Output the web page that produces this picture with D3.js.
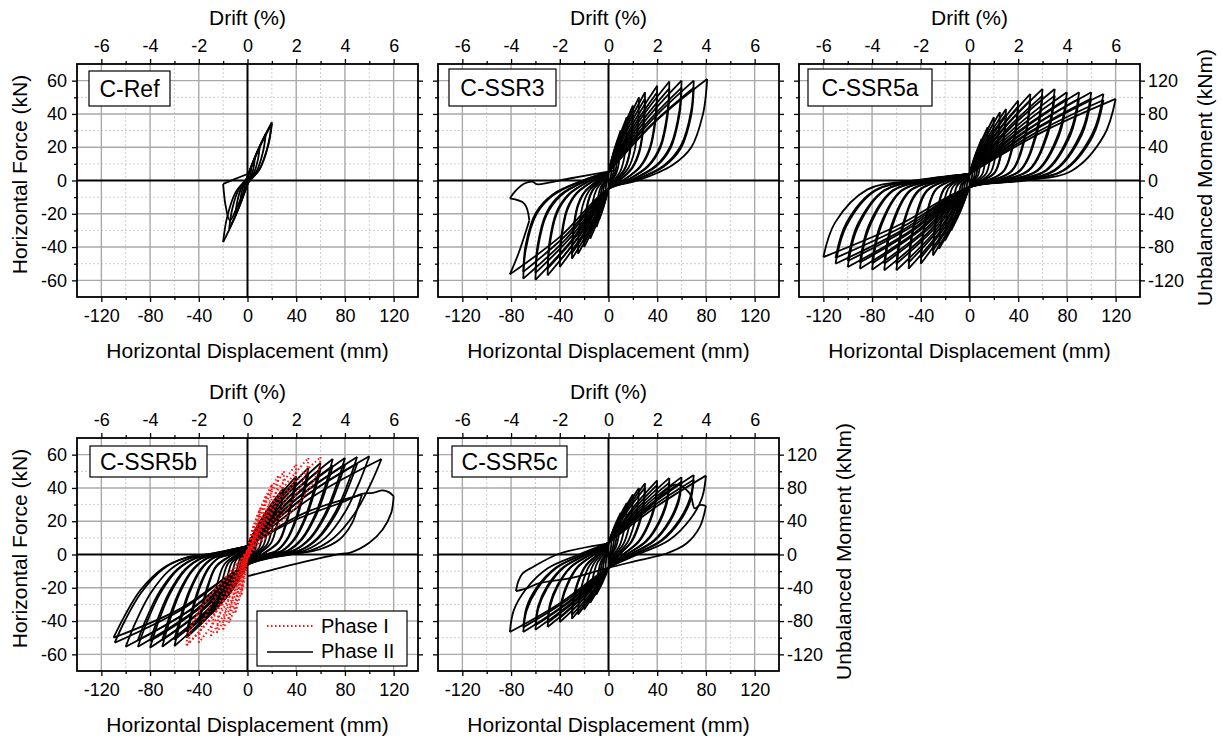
<!DOCTYPE html>
<html>
<head>
<meta charset="utf-8">
<script src="https://cdn.jsdelivr.net/npm/d3@7"></script>
<style>
  body { margin: 0; background: #fff; }
  svg { display: block; font-family: "Liberation Sans", Arial, sans-serif; }
  .tick text { font-size: 18px; fill: #000; }
  .domain { display: none; }
  .tick line { stroke: #000; stroke-width: 1.3; }
</style>
</head>
<body>
<svg id="chart" width="1223" height="745"></svg>
<script>
// tick values
var dispTicks = [-120, -80, -40, 0, 40, 80, 120];
var dispMinor = [-100, -60, -20, 20, 60, 100];
var forceTicks = [-60, -40, -20, 0, 20, 40, 60];
var forceMinor = [-50, -30, -10, 10, 30, 50];
var driftTicks = [-6, -4, -2, 0, 2, 4, 6];
var driftMinor = [-5, -3, -1, 1, 3, 5];
var momentTicks = [-120, -80, -40, 0, 40, 80, 120];
var momentMinor = [-100, -60, -20, 20, 60, 100];

// hysteresis cycles: [displacement mm, force kN]
var refLoops = [
  [[0,2],[1.5,4.8],[3,7],[2.6,4.3],[1.5,1.4],[0.3,0],[0,-2],[-1.5,-4.8],[-3,-7],[-2.6,-4.3],[-1.5,-1.4],[-0.3,0],[0,2]],
  [[0,2],[3,8.2],[6,13],[5.1,8.1],[3,2.6],[0.6,0],[0,-2],[-3,-8.2],[-6,-13],[-5.1,-8.1],[-3,-2.6],[-0.6,0],[0,2]],
  [[0,2],[5,12.1],[10,20],[8.5,12.4],[5,4],[1,0],[0,-2],[-5,-12.6],[-10,-21],[-8.5,-13],[-5,-4.2],[-1,0],[0,2]],
  [[0,2],[7.5,16.6],[15,28],[12.8,17.4],[7.5,5.6],[1.5,0],[0,-2],[-7.5,-17.1],[-15,-29],[-12.8,-18],[-7.5,-5.8],[-1.5,0],[0,2]],
  [[0,2],[10,20.5],[20,35],[17,21.7],[10,7],[2,0],[0,-2],[-10,-21.6],[-20,-37],[-17,-22.9],[-10,-7.4],[-2,0],[0,2]],
  [[0,2],[10,20],[20,34],[17,21],[10,6.8],[2,0],[0,-2],[-8,-15],[-14.5,-24],[-18,-15],[-20,-2],[-10,1],[0.5,4]]
];

var ssr3Loops = [
  [[0,5],[1.25,7.8],[2.5,10],[2.4,7],[2.1,3.5],[1.6,1.5],[0.75,0],[0,-5],[-1.25,-7.8],[-2.5,-10],[-2.4,-7],[-2.1,-3.5],[-1.6,-1.5],[-0.75,0],[0,5]],
  [[0,5],[2.5,12.3],[5,18],[4.9,12.6],[4.3,6.3],[3.3,2.7],[1.5,0],[0,-5],[-2.5,-11.7],[-5,-17],[-4.9,-11.9],[-4.3,-6],[-3.3,-2.6],[-1.5,0],[0,5]],
  [[0,5],[3.75,15.6],[7.5,24],[7.3,16.8],[6.4,8.4],[4.9,3.6],[2.25,0],[0,-5],[-3.75,-15.1],[-7.5,-23],[-7.3,-16.1],[-6.4,-8.1],[-4.9,-3.5],[-2.25,0],[0,5]],
  [[0,5],[5,19],[10,30],[9.7,21],[8.5,10.5],[6.5,4.5],[3,0],[0,-5],[-5,-17.9],[-10,-28],[-9.7,-19.6],[-8.5,-9.8],[-6.5,-4.2],[-3,0],[0,5]],
  [[0,5],[7.5,23.5],[15,38],[14.6,26.6],[12.8,13.3],[9.8,5.7],[4.5,0],[0,-5],[-7.5,-21.8],[-15,-35],[-14.6,-24.5],[-12.8,-12.3],[-9.8,-5.3],[-4.5,0],[0,5]],
  [[0,5],[10,27.4],[20,45],[19.4,31.5],[17,15.8],[13,6.8],[6,0],[0,-5],[-10,-24.6],[-20,-40],[-19.4,-28],[-17,-14],[-13,-6],[-6,0],[0,5]],
  [[0,5],[12.5,30.2],[25,50],[24.3,35],[21.3,17.5],[16.3,7.5],[7.5,0],[0,-5],[-12.5,-26.8],[-25,-44],[-24.3,-30.8],[-21.3,-15.4],[-16.3,-6.6],[-7.5,0],[0,5]],
  [[0,5],[15,31.9],[30,53],[29.1,37.1],[25.5,18.6],[19.5,8],[9,0],[0,-5],[-15,-28.5],[-30,-47],[-29.1,-32.9],[-25.5,-16.5],[-19.5,-7.1],[-9,0],[0,5]],
  [[0,5],[20,34.1],[40,57],[38.8,39.9],[34,20],[26,8.6],[12,0],[0,-5],[-20,-31.3],[-40,-52],[-38.8,-36.4],[-34,-18.2],[-26,-7.8],[-12,0],[0,5]],
  [[0,5],[25,35.5],[50,59.5],[48.5,41.7],[42.5,20.8],[32.5,8.9],[15,0],[0,-5],[-25,-34.1],[-50,-57],[-48.5,-39.9],[-42.5,-20],[-32.5,-8.6],[-15,0],[0,5]],
  [[0,5],[30,35.8],[60,60],[58.2,42],[51,21],[39,9],[18,0],[0,-5],[-30,-35.6],[-60,-59.7],[-58.2,-41.8],[-51,-20.9],[-39,-9],[-18,0],[0,5]],
  [[0,5],[35,35.8],[70,60],[67.9,42],[59.5,21],[45.5,9],[21,0],[0,-5],[-35,-35.2],[-70,-59],[-67.9,-41.3],[-59.5,-20.7],[-45.5,-8.9],[-21,0],[0,5]],
  [[0,5],[40,36.4],[81,61],[80.3,54],[77.6,40],[68,20],[52,9],[24,0],[0,-5],[-40,-33.9],[-81,-56.4],[-74,-44],[-65,-24],[-69,-14],[-81,-10.8],[-76,-6],[-69,-1.8],[-62,-0.8],[-59,-2.2],[-32,1.2],[6.6,6.2]]
];
// second cycles at the same amplitudes
var ssr3Repeat = [
  [[0,5],[10,25.7],[20,42],[19.4,29.4],[17,14.7],[13,6.3],[6,0],[0,-5],[-10,-23],[-20,-37],[-19.4,-25.9],[-17,-13],[-13,-5.6],[-6,0],[0,5]],
  [[0,5],[15,29.8],[30,49.3],[29.1,34.5],[25.5,17.3],[19.5,7.4],[9,0],[0,-5],[-15,-26.7],[-30,-43.7],[-29.1,-30.6],[-25.5,-15.3],[-19.5,-6.6],[-9,0],[0,5]],
  [[0,5],[20,31.9],[40,53],[38.8,37.1],[34,18.6],[26,8],[12,0],[0,-5],[-20,-29.3],[-40,-48.4],[-38.8,-33.9],[-34,-16.9],[-26,-7.3],[-12,0],[0,5]],
  [[0,5],[25,33.2],[50,55.3],[48.5,38.7],[42.5,19.4],[32.5,8.3],[15,0],[0,-5],[-25,-31.9],[-50,-53],[-48.5,-37.1],[-42.5,-18.6],[-32.5,-8],[-15,0],[0,5]],
  [[0,5],[30,33.4],[60,55.8],[58.2,39.1],[51,19.5],[39,8.4],[18,0],[0,-5],[-30,-33.3],[-60,-55.5],[-58.2,-38.9],[-51,-19.4],[-39,-8.3],[-18,0],[0,5]],
  [[0,5],[35,33.4],[70,55.8],[67.9,39.1],[59.5,19.5],[45.5,8.4],[21,0],[0,-5],[-35,-32.9],[-70,-54.9],[-67.9,-38.4],[-59.5,-19.2],[-45.5,-8.2],[-21,0],[0,5]]
];

var ssr5aLoops = [
  [[0,4],[1.25,6.8],[2.5,9],[2.3,5],[1.75,1.1],[0.95,0],[0,-4],[-1.25,-6.2],[-2.5,-8],[-2.3,-4.4],[-1.75,-1],[-0.95,0],[0,4]],
  [[0,4],[2.5,9.6],[5,14],[4.6,7.7],[3.5,1.7],[1.9,0],[0,-4],[-2.5,-8.5],[-5,-12],[-4.6,-6.6],[-3.5,-1.4],[-1.9,0],[0,4]],
  [[0,4],[3.75,13],[7.5,20],[6.9,11],[5.25,2.4],[2.85,0],[0,-4],[-3.75,-11.3],[-7.5,-17],[-6.9,-9.4],[-5.25,-2],[-2.85,0],[0,4]],
  [[0,4],[5,15.8],[10,25],[9.2,13.8],[7,3],[3.8,0],[0,-4],[-5,-14.1],[-10,-22],[-9.2,-12.1],[-7,-2.6],[-3.8,0],[0,4]],
  [[0,4],[7.5,19.7],[15,32],[13.8,17.6],[10.5,3.8],[5.7,0],[0,-4],[-7.5,-18.6],[-15,-30],[-13.8,-16.5],[-10.5,-3.6],[-5.7,0],[0,4]],
  [[0,4],[10,23],[20,38],[18.4,20.9],[14,4.6],[7.6,0],[0,-4],[-10,-21.9],[-20,-36],[-18.4,-19.8],[-14,-4.3],[-7.6,0],[0,4]],
  [[0,4],[12.5,24.7],[25,41],[23,22.6],[17.5,4.9],[9.5,0],[0,-4],[-12.5,-24.7],[-25,-41],[-23,-22.6],[-17.5,-4.9],[-9.5,0],[0,4]],
  [[0,4],[15,25.8],[30,43],[27.6,23.7],[21,5.2],[11.4,0],[0,-4],[-15,-27],[-30,-45],[-27.6,-24.8],[-21,-5.4],[-11.4,0],[0,4]],
  [[0,4],[20,28.6],[40,48],[36.8,26.4],[28,5.8],[15.2,0],[0,-4],[-20,-29.8],[-40,-50],[-36.8,-27.5],[-28,-6],[-15.2,0],[0,4]],
  [[0,4],[25,30.9],[50,52],[46,28.6],[35,6.2],[19,0],[0,-4],[-25,-31.4],[-50,-53],[-46,-29.2],[-35,-6.4],[-19,0],[0,4]],
  [[0,4],[30,32.6],[60,55],[55.2,30.3],[42,6.6],[22.8,0],[0,-4],[-30,-32],[-60,-54],[-55.2,-29.7],[-42,-6.5],[-22.8,0],[0,4]],
  [[0,4],[35,32.6],[70,55],[64.4,30.3],[49,6.6],[26.6,0],[0,-4],[-35,-32],[-70,-54],[-64.4,-29.7],[-49,-6.5],[-26.6,0],[0,4]],
  [[0,4],[40,31.4],[80,53],[73.6,29.2],[56,6.4],[30.4,0],[0,-4],[-40,-31.8],[-80,-53.6],[-73.6,-29.5],[-56,-6.4],[-30.4,0],[0,4]],
  [[0,4],[45,31.4],[90,53],[82.8,29.2],[63,6.4],[34.2,0],[0,-4],[-45,-31.4],[-90,-53],[-82.8,-29.2],[-63,-6.4],[-34.2,0],[0,4]],
  [[0,4],[50,31.4],[100,53],[92,29.2],[70,6.4],[38,0],[0,-4],[-50,-30.9],[-100,-52],[-92,-28.6],[-70,-6.2],[-38,0],[0,4]],
  [[0,4],[55,30.9],[110,52],[101.2,28.6],[77,6.2],[41.8,0],[0,-4],[-55,-29.8],[-110,-50],[-101.2,-27.5],[-77,-6],[-41.8,0],[0,4]],
  [[0,4],[60,29.2],[120,49],[110.4,27],[84,5.9],[45.6,0],[0,-4],[-60,-27.5],[-120,-46],[-110.4,-25.3],[-84,-5.5],[-45.6,0],[0,4]]
];
var ssr5aRepeat = [
  [[0,4],[15,24.2],[30,40],[27.6,22],[21,4.8],[10.8,0],[0,-4],[-15,-25.3],[-30,-42],[-27.6,-23.1],[-21,-5],[-10.8,0],[0,4]],
  [[0,4],[20,26.7],[40,44.6],[36.8,24.5],[28,5.4],[14.4,0],[0,-4],[-20,-27.8],[-40,-46.5],[-36.8,-25.6],[-28,-5.6],[-14.4,0],[0,4]],
  [[0,4],[25,28.9],[50,48.4],[46,26.6],[35,5.8],[18,0],[0,-4],[-25,-29.4],[-50,-49.3],[-46,-27.1],[-35,-5.9],[-18,0],[0,4]],
  [[0,4],[30,30.3],[60,51],[55.2,28],[42,6.1],[21.6,0],[0,-4],[-30,-29.8],[-60,-50],[-55.2,-27.5],[-42,-6],[-21.6,0],[0,4]],
  [[0,4],[35,30.3],[70,51],[64.4,28],[49,6.1],[25.2,0],[0,-4],[-35,-29.8],[-70,-50],[-64.4,-27.5],[-49,-6],[-25.2,0],[0,4]],
  [[0,4],[40,29.4],[80,49.3],[73.6,27.1],[56,5.9],[28.8,0],[0,-4],[-40,-29.6],[-80,-49.8],[-73.6,-27.4],[-56,-6],[-28.8,0],[0,4]],
  [[0,4],[45,29.4],[90,49.3],[82.8,27.1],[63,5.9],[32.4,0],[0,-4],[-45,-29.4],[-90,-49.3],[-82.8,-27.1],[-63,-5.9],[-32.4,0],[0,4]],
  [[0,4],[50,29.4],[100,49.3],[92,27.1],[70,5.9],[36,0],[0,-4],[-50,-28.9],[-100,-48.4],[-92,-26.6],[-70,-5.8],[-36,0],[0,4]],
  [[0,4],[55,28.9],[110,48.4],[101.2,26.6],[77,5.8],[39.6,0],[0,-4],[-55,-27.8],[-110,-46.5],[-101.2,-25.6],[-77,-5.6],[-39.6,0],[0,4]]
];

var ssr5bLoops = [
  [[0,5],[1.25,6.7],[2.5,8],[2.3,5.9],[2,3.4],[1.6,1.4],[0.75,0],[0,-6],[-1.25,-7.2],[-2.5,-8],[-2.3,-5.9],[-2,-3.4],[-1.6,-1.4],[-0.75,0],[0,5]],
  [[0,5],[2.5,9.1],[5,12],[4.6,8.9],[4,5.2],[3.2,2],[1.5,0],[0,-6],[-2.5,-8.9],[-5,-11],[-4.6,-8.1],[-4,-4.7],[-3.2,-1.9],[-1.5,0],[0,5]],
  [[0,5],[3.75,10.8],[7.5,15],[6.9,11.1],[6,6.5],[4.8,2.6],[2.25,0],[0,-6],[-3.75,-10.6],[-7.5,-14],[-6.9,-10.4],[-6,-6],[-4.8,-2.4],[-2.25,0],[0,5]],
  [[0,5],[5,12.5],[10,18],[9.2,13.3],[8,7.7],[6.4,3.1],[3,0],[0,-6],[-5,-11.8],[-10,-16],[-9.2,-11.8],[-8,-6.9],[-6.4,-2.7],[-3,0],[0,5]],
  [[0,5],[7.5,16],[15,24],[13.8,17.8],[12,10.3],[9.6,4.1],[4.5,0],[0,-6],[-7.5,-15.3],[-15,-22],[-13.8,-16.3],[-12,-9.5],[-9.6,-3.7],[-4.5,0],[0,5]],
  [[0,5],[10,19.5],[20,30],[18.4,22.2],[16,12.9],[12.8,5.1],[6,0],[0,-6],[-10,-18.8],[-20,-28],[-18.4,-20.7],[-16,-12],[-12.8,-4.8],[-6,0],[0,5]],
  [[0,5],[12.5,22.4],[25,35],[23,25.9],[20,15.1],[16,6],[7.5,0],[0,-6],[-12.5,-21.1],[-25,-32],[-23,-23.7],[-20,-13.8],[-16,-5.4],[-7.5,0],[0,5]],
  [[0,5],[15,25.3],[30,40],[27.6,29.6],[24,17.2],[19.2,6.8],[9,0],[0,-6],[-15,-23.4],[-30,-36],[-27.6,-26.6],[-24,-15.5],[-19.2,-6.1],[-9,0],[0,5]],
  [[0,5],[20,29.4],[40,47],[36.8,34.8],[32,20.2],[25.6,8],[12,0],[0,-6],[-20,-27.5],[-40,-43],[-36.8,-31.8],[-32,-18.5],[-25.6,-7.3],[-12,0],[0,5]],
  [[0,5],[25,32.3],[50,52],[46,38.5],[40,22.4],[32,8.8],[23.5,2.1],[15,0],[0,-6],[-25,-31.5],[-50,-50],[-46,-37],[-40,-21.5],[-32,-8.5],[-23.5,-2],[-15,0],[0,5]],
  [[0,5],[30,34],[60,55],[55.2,40.7],[48,23.7],[38.4,9.4],[28.2,2.2],[18,0],[0,-6],[-30,-34.4],[-60,-55],[-55.2,-40.7],[-48,-23.7],[-38.4,-9.4],[-28.2,-2.2],[-18,0],[0,5]],
  [[0,5],[35,35.4],[70,57.4],[64.4,42.5],[56,24.7],[44.8,9.8],[32.9,2.3],[21,0],[0,-6],[-35,-34.7],[-70,-55.4],[-64.4,-41],[-56,-23.8],[-44.8,-9.4],[-32.9,-2.2],[-21,0],[0,5]],
  [[0,5],[40,35.7],[80,58],[73.6,42.9],[64,24.9],[51.2,9.9],[37.6,2.3],[24,0],[0,-6],[-40,-35],[-80,-56],[-73.6,-41.4],[-64,-24.1],[-51.2,-9.5],[-37.6,-2.2],[-24,0],[0,5]],
  [[0,5],[45,36.1],[90,58.6],[82.8,43.4],[72,25.2],[57.6,10],[42.3,2.3],[27,0],[0,-6],[-45,-34.7],[-90,-55.4],[-82.8,-41],[-72,-23.8],[-57.6,-9.4],[-42.3,-2.2],[-27,0],[0,5]],
  [[0,5],[50,36.3],[100,59],[92,43.7],[80,25.4],[64,10],[47,2.4],[30,0],[0,-6],[-50,-34.7],[-100,-55.4],[-92,-41],[-80,-23.8],[-64,-9.4],[-47,-2.2],[-30,0],[0,5]],
  [[0,5],[55,35.4],[110,57.4],[101.2,42.5],[88,24.7],[70.4,9.8],[51.7,2.3],[33,0],[0,-6],[-54.5,-33.3],[-109,-53],[-100.3,-39.2],[-87.2,-22.8],[-69.8,-9],[-51.2,-2.1],[-32.7,0],[0,5]],
  [[0,5],[47,25],[94,36],[90,27],[86,19],[75.5,9],[59,3],[35,0],[0,-6],[-55,-32.5],[-110,-50],[-101,-37],[-88,-21.5],[-70,-8.5],[-51,-2],[-33,0],[0,5]],
  [[0,5],[40,21],[80,32],[94,36.5],[103,37],[111,38.5],[116,37.5],[120,35],[118,25],[111,15],[100,7],[84,1],[78,0.5],[43,-5],[0.5,-13]]
];
var ssr5bRepeat = [
  [[0,5],[20,27.4],[40,43.7],[36.8,32.3],[32,18.8],[25.6,7.4],[12,0],[0,-6],[-20,-25.7],[-40,-40],[-36.8,-29.6],[-32,-17.2],[-25.6,-6.8],[-12,0],[0,5]],
  [[0,5],[25,30.2],[50,48.4],[46,35.8],[40,20.8],[32,8.2],[23.5,1.9],[15,0],[0,-6],[-25,-29.5],[-50,-46.5],[-46,-34.4],[-40,-20],[-32,-7.9],[-23.5,-1.9],[-15,0],[0,5]],
  [[0,5],[30,31.8],[60,51.2],[55.2,37.9],[48,22],[38.4,8.7],[28.2,2],[18,0],[0,-6],[-30,-32.2],[-60,-51.2],[-55.2,-37.9],[-48,-22],[-38.4,-8.7],[-28.2,-2],[-18,0],[0,5]],
  [[0,5],[35,33.1],[70,53.4],[64.4,39.5],[56,23],[44.8,9.1],[32.9,2.1],[21,0],[0,-6],[-35,-32.4],[-70,-51.5],[-64.4,-38.1],[-56,-22.1],[-44.8,-8.8],[-32.9,-2.1],[-21,0],[0,5]],
  [[0,5],[40,33.4],[80,54],[73.6,40],[64,23.2],[51.2,9.2],[37.6,2.2],[24,0],[0,-6],[-40,-32.7],[-80,-52],[-73.6,-38.5],[-64,-22.4],[-51.2,-8.8],[-37.6,-2.1],[-24,0],[0,5]],
  [[0,5],[45,33.7],[90,54.5],[82.8,40.3],[72,23.4],[57.6,9.3],[42.3,2.2],[27,0],[0,-6],[-45,-32.4],[-90,-51.5],[-82.8,-38.1],[-72,-22.1],[-57.6,-8.8],[-42.3,-2.1],[-27,0],[0,5]]
];

var ssr5bPhase1 = [
  [[0,2],[2.5,11],[5,17],[4.85,14.6],[3.5,8.8],[2,4.9],[0,-2],[-2.5,-15.2],[-5,-24],[-4.85,-20.6],[-3.5,-12.5],[-2,-7],[0,2]],
  [[0,2],[5,17],[10,27],[9.7,23.2],[7,14],[4,7.8],[0,-2],[-5,-21.8],[-10,-35],[-9.7,-30.1],[-7,-18.2],[-4,-10.2],[0,2]],
  [[0,2],[7.5,21.8],[15,35],[14.6,30.1],[10.5,18.2],[6,10.2],[0,-2],[-7.5,-25.4],[-15,-41],[-14.6,-35.3],[-10.5,-21.3],[-6,-11.9],[0,2]],
  [[0,2],[10,26],[20,42],[19.4,36.1],[14,21.8],[8,12.2],[0,-2],[-10,-27.8],[-20,-45],[-19.4,-38.7],[-14,-23.4],[-8,-13.1],[0,2]],
  [[0,2],[12.5,29],[25,47],[24.3,40.4],[17.5,24.4],[10,13.6],[0,-2],[-12.5,-29],[-25,-47],[-24.3,-40.4],[-17.5,-24.4],[-10,-13.6],[0,2]],
  [[0,2],[15,30.8],[30,50],[29.1,43],[21,26],[12,14.5],[0,-2],[-15,-30.2],[-30,-49],[-29.1,-42.1],[-21,-25.5],[-12,-14.2],[0,2]],
  [[0,2],[20,33.2],[40,54],[38.8,46.4],[28,28.1],[16,15.7],[0,-2],[-20,-32.6],[-40,-53],[-38.8,-45.6],[-28,-27.6],[-16,-15.4],[0,2]],
  [[0,2],[25,35.6],[50,58],[48.5,49.9],[35,30.2],[20,16.8],[0,-2],[-25,-33.6],[-50,-54.6],[-48.5,-47],[-35,-28.4],[-20,-15.8],[0,2]],
  [[0,2],[30,36],[60,58.6],[58.2,50.4],[42,30.5],[24,17],[0,-2],[-24,-32.6],[-48,-53],[-46.6,-45.6],[-33.6,-27.6],[-19.2,-15.4],[0,2]]
];

var ssr5cLoops = [
  [[0,7],[1.25,8.7],[2.5,10],[2.4,7.2],[2.1,4.5],[1.55,1.8],[0.75,0],[0,-8],[-1.25,-9.1],[-2.5,-10],[-2.4,-7.2],[-2.1,-4.5],[-1.55,-1.8],[-0.75,0],[0,7]],
  [[0,7],[2.5,11.5],[5,15],[4.8,10.8],[4.2,6.8],[3.1,2.7],[1.5,0],[0,-8],[-2.5,-11.4],[-5,-14],[-4.8,-10.1],[-4.2,-6.3],[-3.1,-2.5],[-1.5,0],[0,7]],
  [[0,7],[3.75,14.3],[7.5,20],[7.2,14.4],[6.3,9],[4.65,3.6],[2.25,0],[0,-8],[-3.75,-14.2],[-7.5,-19],[-7.2,-13.7],[-6.3,-8.6],[-4.65,-3.4],[-2.25,0],[0,7]],
  [[0,7],[5,17.1],[10,25],[9.6,18],[8.4,11.3],[6.2,4.5],[3,0],[0,-8],[-5,-17],[-10,-24],[-9.6,-17.3],[-8.4,-10.8],[-6.2,-4.3],[-3,0],[0,7]],
  [[0,7],[7.5,20.4],[15,31],[14.4,22.3],[12.6,14],[9.3,5.6],[4.5,0],[0,-8],[-7.5,-19.8],[-15,-29],[-14.4,-20.9],[-12.6,-13.1],[-9.3,-5.2],[-4.5,0],[0,7]],
  [[0,7],[10,23.2],[20,36],[19.2,25.9],[16.8,16.2],[12.4,6.5],[6,0],[0,-8],[-10,-22],[-20,-33],[-19.2,-23.8],[-16.8,-14.9],[-12.4,-5.9],[-6,0],[0,7]],
  [[0,7],[12.5,25.5],[25,40],[24,28.8],[21,18],[15.5,7.2],[7.5,0],[0,-8],[-12.5,-23.7],[-25,-36],[-24,-25.9],[-21,-16.2],[-15.5,-6.5],[-7.5,0],[0,7]],
  [[0,7],[15,27],[30,42.8],[28.8,30.8],[25.2,19.3],[18.6,7.7],[9,0],[0,-8],[-15,-25.1],[-30,-38.6],[-28.8,-27.8],[-25.2,-17.4],[-18.6,-6.9],[-9,0],[0,7]],
  [[0,7],[20,28],[40,44.5],[38.4,32],[33.6,20],[24.8,8],[12,0],[0,-8],[-20,-26.3],[-40,-40.6],[-38.4,-29.2],[-33.6,-18.3],[-24.8,-7.3],[-12,0],[0,7]],
  [[0,7],[25,28.8],[50,46],[48,33.1],[42,20.7],[31,8.3],[15,0],[0,-8],[-25,-27.9],[-50,-43.6],[-48,-31.4],[-42,-19.6],[-31,-7.8],[-15,0],[0,7]],
  [[0,7],[30,29.1],[60,46.5],[57.6,33.5],[50.4,20.9],[37.2,8.4],[18,0],[0,-8],[-30,-28.8],[-60,-45.2],[-57.6,-32.5],[-50.4,-20.3],[-37.2,-8.1],[-18,0],[0,7]],
  [[0,7],[35,29.8],[70,47.8],[67.2,34.4],[58.8,21.5],[43.4,8.6],[21,0],[0,-8],[-35,-29.6],[-70,-46.6],[-67.2,-33.6],[-58.8,-21],[-43.4,-8.4],[-21,0],[0,7]],
  [[0,7],[40,29.1],[80,47.4],[76.8,34.1],[67.2,21.3],[49.6,8.5],[24,0],[0,-8],[-40.5,-29.6],[-81,-46.6],[-77.8,-33.6],[-68,-21],[-50.2,-8.4],[-24.3,0],[0,7]],
  [[0,7],[30,26],[55,42],[66.7,36.7],[70.8,27.7],[75,29.7],[80,29.2],[75,16.6],[64,6.6],[47.5,0.6],[25.5,-3.4],[0,-8],[-30,-14],[-58,-17.5],[-66,-20],[-76,-22],[-74,-16],[-70.5,-11.4],[-62,-7.5],[-40,0.6],[0,6.6]]
];
var ssr5cRepeat = [
  [[0,7],[15,25.6],[30,40.2],[28.8,28.9],[25.2,18.1],[18.6,7.2],[9,0],[0,-8],[-15,-23.8],[-30,-36.3],[-28.8,-26.1],[-25.2,-16.3],[-18.6,-6.5],[-9,0],[0,7]],
  [[0,7],[20,26.5],[40,41.8],[38.4,30.1],[33.6,18.8],[24.8,7.5],[12,0],[0,-8],[-20,-24.9],[-40,-38.2],[-38.4,-27.5],[-33.6,-17.2],[-24.8,-6.9],[-12,0],[0,7]],
  [[0,7],[25,27.3],[50,43.2],[48,31.1],[42,19.4],[31,7.8],[15,0],[0,-8],[-25,-26.5],[-50,-41],[-48,-29.5],[-42,-18.5],[-31,-7.4],[-15,0],[0,7]],
  [[0,7],[30,27.6],[60,43.7],[57.6,31.5],[50.4,19.7],[37.2,7.9],[18,0],[0,-8],[-30,-27.3],[-60,-42.5],[-57.6,-30.6],[-50.4,-19.1],[-37.2,-7.7],[-18,0],[0,7]],
  [[0,7],[35,28.2],[70,44.9],[67.2,32.3],[58.8,20.2],[43.4,8.1],[21,0],[0,-8],[-35,-28],[-70,-43.8],[-67.2,-31.5],[-58.8,-19.7],[-43.4,-7.9],[-21,0],[0,7]]
];

var legendNames = ["Phase I", "Phase II"];

var W = 341, H = 233;
var panels = [
  { name: "C-Ref",   loops: refLoops,   x: 77,  y: 64,  left: true,  right: false, box: [12, 7, 81, 35] },
  { name: "C-SSR3",  loops: ssr3Loops.concat(ssr3Repeat),  x: 438, y: 64,  left: false, right: false, box: [11, 5, 107, 37] },
  { name: "C-SSR5a", loops: ssr5aLoops.concat(ssr5aRepeat), x: 799, y: 64,  left: false, right: true,  box: [9, 5, 124, 37] },
  { name: "C-SSR5b", loops: ssr5bLoops.concat(ssr5bRepeat), red: ssr5bPhase1, x: 77, y: 438, left: true, right: false, box: [13, 8, 117, 31], legend: true },
  { name: "C-SSR5c", loops: ssr5cLoops.concat(ssr5cRepeat), x: 438, y: 438, left: false, right: true, box: [14, 8, 115, 31] }
];

var svg = d3.select("#chart");

// split a loop into branches wherever the displacement reverses, so tips stay sharp
function branches(pts) {
  var out = [], cur = [pts[0]], dir = 0;
  for (var i = 1; i < pts.length; i++) {
    var s = Math.sign(pts[i][0] - pts[i - 1][0]);
    if (s !== 0 && dir !== 0 && s !== dir) { out.push(cur); cur = [pts[i - 1]]; }
    if (s !== 0) dir = s;
    cur.push(pts[i]);
  }
  out.push(cur);
  return out;
}

panels.forEach(function(p, idx) {
  var x = d3.scaleLinear().domain([-140, 140]).range([0, W]);
  var y = d3.scaleLinear().domain([-70, 70]).range([H, 0]);
  var xd = d3.scaleLinear().domain([-7, 7]).range([0, W]);
  var ym = d3.scaleLinear().domain([-140, 140]).range([H, 0]);

  var g = svg.append("g").attr("transform", "translate(" + p.x + "," + p.y + ")");

  // grid
  g.selectAll(".vmin").data(dispMinor).enter().append("line")
    .attr("x1", x).attr("x2", x).attr("y1", 0).attr("y2", H)
    .attr("stroke", "#cfcfcf").attr("stroke-dasharray", "2,2");
  g.selectAll(".hmin").data(forceMinor).enter().append("line")
    .attr("y1", y).attr("y2", y).attr("x1", 0).attr("x2", W)
    .attr("stroke", "#cfcfcf").attr("stroke-dasharray", "2,2");
  g.selectAll(".vmaj").data(dispTicks.filter(function(d) { return d !== 0; })).enter().append("line")
    .attr("x1", x).attr("x2", x).attr("y1", 0).attr("y2", H)
    .attr("stroke", "#a9a9a9").attr("stroke-width", 1.4);
  g.selectAll(".hmaj").data(forceTicks.filter(function(d) { return d !== 0; })).enter().append("line")
    .attr("y1", y).attr("y2", y).attr("x1", 0).attr("x2", W)
    .attr("stroke", "#a9a9a9").attr("stroke-width", 1.4);

  // zero lines
  g.append("line").attr("x1", x(0)).attr("x2", x(0)).attr("y1", 0).attr("y2", H)
    .attr("stroke", "#000").attr("stroke-width", 2);
  g.append("line").attr("y1", y(0)).attr("y2", y(0)).attr("x1", 0).attr("x2", W)
    .attr("stroke", "#000").attr("stroke-width", 2);

  // curves
  g.append("clipPath").attr("id", "clip" + idx).append("rect").attr("width", W).attr("height", H);
  var line = d3.line().x(function(d) { return x(d[0]); }).y(function(d) { return y(d[1]); })
    .curve(d3.curveCatmullRom.alpha(0.5));
  var cg = g.append("g").attr("clip-path", "url(#clip" + idx + ")");
  p.loops.forEach(function(loop) {
    branches(loop).forEach(function(b) {
      cg.append("path").attr("d", line(b)).attr("fill", "none")
        .attr("stroke", "#000").attr("stroke-width", 1.8).attr("stroke-linejoin", "round");
    });
  });
  if (p.red) {
    p.red.forEach(function(loop) {
      branches(loop).forEach(function(b) {
        cg.append("path").attr("d", line(b)).attr("fill", "none")
          .attr("stroke", "#ff1010").attr("stroke-width", 2).attr("stroke-dasharray", "1.5,2.5");
      });
    });
  }

  // axes
  var fmt = function(d) { return String(d); };
  g.append("g").attr("transform", "translate(0," + H + ")")
    .call(d3.axisBottom(x).tickValues(dispTicks).tickSize(5).tickPadding(7).tickFormat(fmt));
  g.append("g").attr("transform", "translate(0," + H + ")")
    .call(d3.axisBottom(x).tickValues(dispMinor).tickSize(3).tickFormat(""));
  g.append("g")
    .call(d3.axisTop(xd).tickValues(driftTicks).tickSize(5).tickPadding(7).tickFormat(fmt));
  g.append("g")
    .call(d3.axisTop(xd).tickValues(driftMinor).tickSize(3).tickFormat(""));
  g.append("g")
    .call(d3.axisLeft(y).tickValues(forceTicks).tickSize(5).tickPadding(5).tickFormat(p.left ? fmt : ""));
  g.append("g")
    .call(d3.axisLeft(y).tickValues(forceMinor).tickSize(3).tickFormat(""));
  g.append("g").attr("transform", "translate(" + W + ",0)")
    .call(d3.axisRight(ym).tickValues(momentTicks).tickSize(5).tickPadding(3).tickFormat(p.right ? fmt : ""));
  g.append("g").attr("transform", "translate(" + W + ",0)")
    .call(d3.axisRight(ym).tickValues(momentMinor).tickSize(3).tickFormat(""));

  // frame
  g.append("rect").attr("width", W).attr("height", H)
    .attr("fill", "none").attr("stroke", "#000").attr("stroke-width", 1.8);

  // titles
  g.append("text").attr("x", W / 2).attr("y", -39).attr("text-anchor", "middle")
    .style("font-size", "21px").text("Drift (%)");
  g.append("text").attr("x", W / 2).attr("y", H + 61).attr("text-anchor", "middle")
    .style("font-size", "21px").text("Horizontal Displacement (mm)");
  if (p.left) {
    g.append("text").attr("transform", "translate(-50," + (H / 2 - 6) + ") rotate(-90)")
      .attr("text-anchor", "middle").style("font-size", "21px").text("Horizontal Force (kN)");
  }
  if (p.right) {
    g.append("text").attr("transform", "translate(" + (W + 72) + "," + (H / 2 - 3) + ") rotate(-90)")
      .attr("text-anchor", "middle").style("font-size", "21px").text("Unbalanced Moment (kNm)");
  }

  // specimen label
  var b = p.box;
  g.append("rect").attr("x", b[0]).attr("y", b[1]).attr("width", b[2]).attr("height", b[3])
    .attr("fill", "#fff").attr("stroke", "#000").attr("stroke-width", 1.2);
  g.append("text").attr("x", b[0] + b[2] / 2).attr("y", b[1] + b[3] / 2 + 8)
    .attr("text-anchor", "middle").style("font-size", "23px").text(p.name);

  // legend
  if (p.legend) {
    var lg = g.append("g").attr("transform", "translate(180,173)");
    lg.append("rect").attr("width", 150).attr("height", 55)
      .attr("fill", "#fff").attr("stroke", "#000").attr("stroke-width", 1.2);
    lg.append("line").attr("x1", 10).attr("x2", 56).attr("y1", 15).attr("y2", 15)
      .attr("stroke", "#ff1010").attr("stroke-width", 2).attr("stroke-dasharray", "1.5,2.5");
    lg.append("line").attr("x1", 10).attr("x2", 56).attr("y1", 41).attr("y2", 41)
      .attr("stroke", "#000").attr("stroke-width", 1.6);
    lg.append("text").attr("x", 64).attr("y", 22).style("font-size", "20px").text(legendNames[0]);
    lg.append("text").attr("x", 64).attr("y", 47).style("font-size", "20px").text(legendNames[1]);
  }
});
</script>
</body>
</html>
